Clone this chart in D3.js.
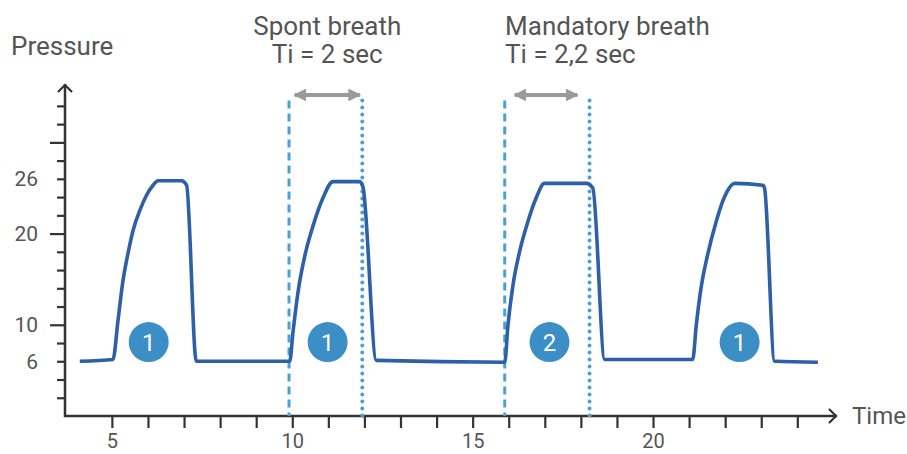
<!DOCTYPE html>
<html>
<head>
<meta charset="utf-8">
<script src="https://cdn.jsdelivr.net/npm/d3@7"></script>
<style>
  body { margin: 0; background: #fff; }
  text { font-family: Roboto, "Open Sans", sans-serif; fill: #555; }
</style>
</head>
<body>
<div id="chart"></div>
<script>
// Pressure trace (time in s, pressure):
var traceTime = [4.11, 5.03, 5.17, 5.31, 5.45, 5.59, 5.78, 5.96, 6.14, 6.28, 6.93, 7.07, 7.34, 9.93,
                 10.02, 10.16, 10.35, 10.58, 10.85, 11.13, 11.87, 11.96, 12.33, 15.89,
                 15.98, 16.12, 16.30, 16.53, 16.76, 16.99, 18.15, 18.33, 18.66, 21.10,
                 21.20, 21.33, 21.51, 21.75, 21.98, 22.26, 23.04, 23.09, 23.37, 24.57];
var tracePressure = [6.0, 6.2, 10.5, 14.9, 17.9, 20.4, 22.6, 24.2, 25.3, 25.8, 25.8, 25.3, 6.0, 6.0,
                     9.2, 13.6, 17.6, 20.9, 23.9, 25.7, 25.7, 25.1, 6.1, 5.9,
                     10.0, 14.4, 18.0, 21.3, 23.9, 25.5, 25.5, 25.0, 6.2, 6.2,
                     10.0, 14.0, 17.6, 21.3, 24.0, 25.5, 25.3, 25.0, 6.0, 5.9];

// Numbered badges:
var badgeTime = [6.02, 10.98, 17.13, 22.4];
var badgePressure = [8.1, 8.1, 8.1, 8.1];
var badgeLabels = ["1", "1", "2", "1"];

// Ti markers (start dashed, end dotted) and the arrows between them:
var tiStart = [9.91, 15.89];
var tiEnd = [11.94, 18.24];
var arrowFrom = [10.01, 16.11];
var arrowTo = [11.93, 17.96];
var markerTop = 34.6, arrowLevel = 35.2;

// Annotation texts:
var noteTitles = ["Spont breath", "Mandatory breath"];
var noteTi = ["Ti = 2 sec", "Ti = 2,2 sec"];
var noteTime = [10.97, 15.9];
var noteAnchor = ["middle", "start"];

// Axis ticks:
var xTicks = [5, 6, 7, 8, 9, 10, 11, 12, 13, 14, 15, 16, 17, 18, 19, 20, 21, 22, 23, 24];
var xTickLabels = [5, 10, 15, 20];
var yTicks = [2, 4, 6, 8, 10, 12, 14, 16, 18, 20, 22, 24, 26, 28, 30, 32, 34];
var yTickLabels = [6, 10, 20, 26];
var yLongTicks = [10, 20, 30];

var width = 907, height = 454;
var axisColor = "#333", traceColor = "#2e5fa9", markColor = "#4aa0d3", badgeColor = "#3b8ec6";

var svg = d3.select("#chart").append("svg")
  .attr("width", width)
  .attr("height", height);

var x = d3.scaleLinear().domain([3.7, 25.1]).range([65, 837]);
var y = d3.scaleLinear().domain([0, 36.4]).range([416, 84]);

// Y axis ticks and labels
var yAxis = svg.append("g")
  .attr("transform", "translate(" + x(3.7) + ",0)")
  .call(d3.axisLeft(y)
    .tickValues(yTicks)
    .tickSize(8)
    .tickPadding(19)
    .tickFormat(function(d) { return yTickLabels.includes(d) ? d : ""; }));
yAxis.select(".domain").remove();
yAxis.selectAll(".tick line")
  .attr("stroke", axisColor)
  .attr("stroke-width", 2.2)
  .attr("x2", function(d) { return yLongTicks.includes(d) ? -15 : -8; });
yAxis.selectAll(".tick text")
  .style("font-size", "21px")
  .style("font-family", "Roboto, sans-serif")
  .attr("fill", "#555");

// X axis ticks and labels (pulled up a little so they stay inside the frame)
var xAxis = svg.append("g")
  .attr("transform", "translate(0," + y(0) + ")")
  .call(d3.axisBottom(x)
    .tickValues(xTicks)
    .tickSize(12)
    .tickPadding(6)
    .tickFormat(function(d) { return xTickLabels.includes(d) ? d : ""; }));
xAxis.select(".domain").remove();
xAxis.selectAll(".tick line")
  .attr("stroke", axisColor)
  .attr("stroke-width", 2.2);
xAxis.selectAll(".tick text")
  .style("font-size", "20px")
  .style("font-family", "Roboto, sans-serif")
  .attr("fill", "#555");

// Axis lines with open arrowheads
var x0 = x(3.7), y0 = y(0), xEnd = x(25.1), yEnd = y(36.4);
svg.append("path")
  .attr("d", "M" + x0 + "," + yEnd + "V" + y0 + "H" + xEnd)
  .attr("fill", "none")
  .attr("stroke", axisColor)
  .attr("stroke-width", 2.5);
svg.append("path")
  .attr("d", "M" + (x0 - 7) + "," + (yEnd + 8) + "L" + x0 + "," + (yEnd + 1) + "L" + (x0 + 7) + "," + (yEnd + 8))
  .attr("fill", "none").attr("stroke", axisColor).attr("stroke-width", 2.2);
svg.append("path")
  .attr("d", "M" + (xEnd - 8) + "," + (y0 - 7) + "L" + (xEnd - 1) + "," + y0 + "L" + (xEnd - 8) + "," + (y0 + 7))
  .attr("fill", "none").attr("stroke", axisColor).attr("stroke-width", 2.2);

// Axis titles
svg.append("text")
  .attr("x", 11).attr("y", 55)
  .style("font-size", "26px")
  .text("Pressure");
svg.append("text")
  .attr("x", xEnd + 15).attr("y", y0 + 8)
  .style("font-size", "24px")
  .text("Time");

// Ti marker lines
svg.selectAll(".ti-start")
  .data(tiStart)
  .enter().append("line")
  .attr("class", "ti-start")
  .attr("x1", function(d) { return x(d); })
  .attr("x2", function(d) { return x(d); })
  .attr("y1", y(markerTop))
  .attr("y2", y(0))
  .attr("stroke", markColor)
  .attr("stroke-width", 3)
  .attr("stroke-dasharray", "8,5");
svg.selectAll(".ti-end")
  .data(tiEnd)
  .enter().append("line")
  .attr("class", "ti-end")
  .attr("x1", function(d) { return x(d); })
  .attr("x2", function(d) { return x(d); })
  .attr("y1", y(markerTop))
  .attr("y2", y(0))
  .attr("stroke", markColor)
  .attr("stroke-width", 4)
  .attr("stroke-linecap", "round")
  .attr("stroke-dasharray", "0,7");

// Double headed arrows
var defs = svg.append("defs");
defs.append("marker")
  .attr("id", "head")
  .attr("viewBox", "0 0 10 10")
  .attr("refX", 9).attr("refY", 5)
  .attr("markerWidth", 3.2).attr("markerHeight", 3.2)
  .attr("orient", "auto-start-reverse")
  .append("path")
  .attr("d", "M0,0L10,5L0,10Z")
  .attr("fill", "#9a9a9a");
svg.selectAll(".ti-arrow")
  .data(arrowFrom)
  .enter().append("line")
  .attr("class", "ti-arrow")
  .attr("x1", function(d) { return x(d) + 2; })
  .attr("x2", function(d, i) { return x(arrowTo[i]) - 2; })
  .attr("y1", y(arrowLevel))
  .attr("y2", y(arrowLevel))
  .attr("stroke", "#9a9a9a")
  .attr("stroke-width", 4)
  .attr("marker-start", "url(#head)")
  .attr("marker-end", "url(#head)");

// Notes above
noteTitles.forEach(function(t, i) {
  svg.append("text")
    .attr("x", x(noteTime[i])).attr("y", 35)
    .attr("text-anchor", noteAnchor[i])
    .style("font-size", "26px")
    .text(t);
  svg.append("text")
    .attr("x", x(noteTime[i])).attr("y", 63)
    .attr("text-anchor", noteAnchor[i])
    .style("font-size", "26px")
    .text(noteTi[i]);
});

// Pressure trace
var line = d3.line()
  .x(function(d) { return x(d[0]); })
  .y(function(d) { return y(d[1]); })
  .curve(d3.curveMonotoneX);
svg.append("path")
  .datum(traceTime.map(function(t, i) { return [t, tracePressure[i]]; }))
  .attr("d", line)
  .attr("fill", "none")
  .attr("stroke", traceColor)
  .attr("stroke-width", 3.6)
  .attr("stroke-linejoin", "round");

// Badges
var badges = svg.selectAll(".badge")
  .data(badgeLabels)
  .enter().append("g")
  .attr("class", "badge")
  .attr("transform", function(d, i) {
    return "translate(" + x(badgeTime[i]) + "," + y(badgePressure[i]) + ")";
  });
badges.append("circle")
  .attr("r", 20)
  .attr("fill", badgeColor);
badges.append("text")
  .attr("text-anchor", "middle")
  .attr("dy", "0.36em")
  .style("font-size", "24px")
  .style("fill", "#fff")
  .text(function(d) { return d; });
</script>
</body>
</html>
